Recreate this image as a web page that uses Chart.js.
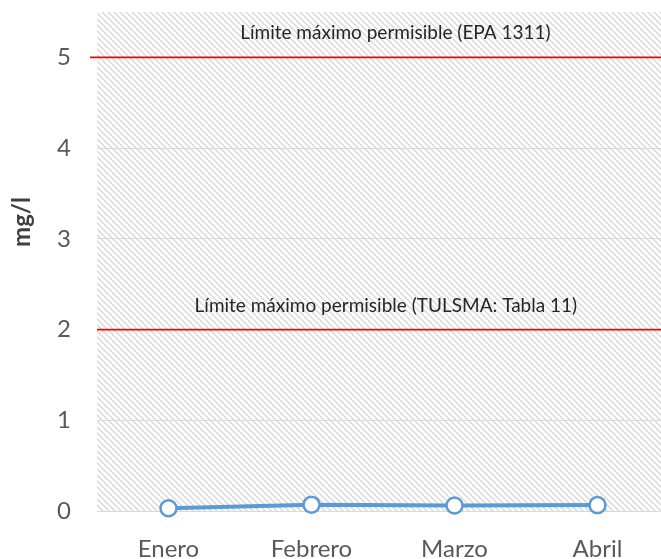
<!DOCTYPE html>
<html>
<head>
<meta charset="utf-8">
<script src="https://cdn.jsdelivr.net/npm/chart.js@4/dist/chart.umd.min.js"></script>
<style>
html,body{margin:0;padding:0;background:#fff;}
#wrap{width:661px;height:559px;}
</style>
</head>
<body>
<div id="wrap"><canvas id="c" width="661" height="559"></canvas></div>
<script>
const categories = ['Enero', 'Febrero', 'Marzo', 'Abril'];
const values = [0.03, 0.07, 0.06, 0.065];
const limitValues = [5, 2];
const limitLabels = ['Límite máximo permisible (EPA 1311)', 'Límite máximo permisible (TULSMA: Tabla 11)'];
const yTicks = [0, 1, 2, 3, 4, 5];
const yAxisTitle = 'mg/l';

const FONT = 'Lato, "Open Sans", sans-serif';

function makePattern(ctx) {
  const p = document.createElement('canvas');
  p.width = 6; p.height = 6;
  const g = p.getContext('2d');
  g.fillStyle = '#ffffff';
  g.fillRect(0, 0, 6, 6);
  g.strokeStyle = '#d9d9d9';
  g.lineWidth = 1.5;
  g.beginPath();
  g.moveTo(-1, -1); g.lineTo(7, 7);
  g.moveTo(-7, -1); g.lineTo(1, 7);
  g.moveTo(5, -1); g.lineTo(13, 7);
  g.stroke();
  return ctx.createPattern(p, 'repeat');
}

const hatchPlugin = {
  id: 'hatch',
  beforeDraw(chart) {
    const {ctx, chartArea: a} = chart;
    ctx.save();
    ctx.fillStyle = makePattern(ctx);
    ctx.fillRect(a.left, a.top, a.right - a.left, a.bottom - a.top);
    ctx.restore();
  }
};

const labelAnchors = [2.587, 2.52];

const limitPlugin = {
  id: 'limits',
  afterDatasetsDraw(chart) {
    const {ctx, chartArea: a, scales} = chart;
    ctx.save();
    limitValues.forEach((v, i) => {
      const y = scales.y.getPixelForValue(v);
      ctx.strokeStyle = '#ff0000';
      ctx.lineWidth = 1.8;
      ctx.beginPath();
      ctx.moveTo(i === 0 ? a.left - 7 : a.left, y);
      ctx.lineTo(a.right, y);
      ctx.stroke();
      ctx.fillStyle = '#262626';
      ctx.font = '19px ' + FONT;
      ctx.textAlign = 'center';
      ctx.textBaseline = 'middle';
      ctx.fillText(limitLabels[i], scales.x.getPixelForValue(labelAnchors[i]), y - 24);
    });
    // y axis title
    ctx.translate(22, 222);
    ctx.rotate(-Math.PI / 2);
    ctx.fillStyle = '#404040';
    ctx.font = 'bold 24px ' + FONT;
    ctx.textAlign = 'center';
    ctx.textBaseline = 'middle';
    ctx.fillText(yAxisTitle, 0, 0);
    ctx.restore();
  }
};

new Chart(document.getElementById('c'), {
  type: 'line',
  data: {
    datasets: [{
      data: values.map((v, i) => ({x: i + 1, y: v})),
      borderColor: '#5b9bd5',
      borderWidth: 4,
      backgroundColor: '#ffffff',
      pointBackgroundColor: '#ffffff',
      pointBorderColor: '#5b9bd5',
      pointBorderWidth: 2.5,
      pointRadius: 8,
      tension: 0,
      clip: false
    }]
  },
  options: {
    responsive: false,
    animation: false,
    layout: {autoPadding: false, padding: {top: 12, right: 0, left: 0, bottom: 0}},
    plugins: {legend: {display: false}, tooltip: {enabled: false}},
    scales: {
      x: {
        type: 'linear',
        min: 0.5,
        max: 4.444,
        grid: {display: false, drawTicks: false},
        border: {display: false},
        afterBuildTicks: s => { s.ticks = categories.map((c, i) => ({value: i + 1})); },
        afterFit: s => { s.height = 48; s.paddingLeft = 0; s.paddingRight = 0; },
        ticks: {
          autoSkip: false,
          maxRotation: 0,
          padding: 24,
          color: '#595959',
          font: {family: FONT, size: 24},
          callback: v => categories[v - 1]
        }
      },
      y: {
        min: 0,
        max: 5.5,
        afterBuildTicks: s => { s.ticks = yTicks.map(v => ({value: v})); },
        afterFit: s => { s.width = 97; s.paddingTop = 0; s.paddingBottom = 0; },
        grid: {color: '#d9d9d9', lineWidth: 1, drawTicks: false},
        border: {display: false},
        ticks: {
          padding: 26,
          color: '#595959',
          font: {family: FONT, size: 24}
        }
      }
    }
  },
  plugins: [hatchPlugin, limitPlugin]
});
</script>
</body>
</html>
